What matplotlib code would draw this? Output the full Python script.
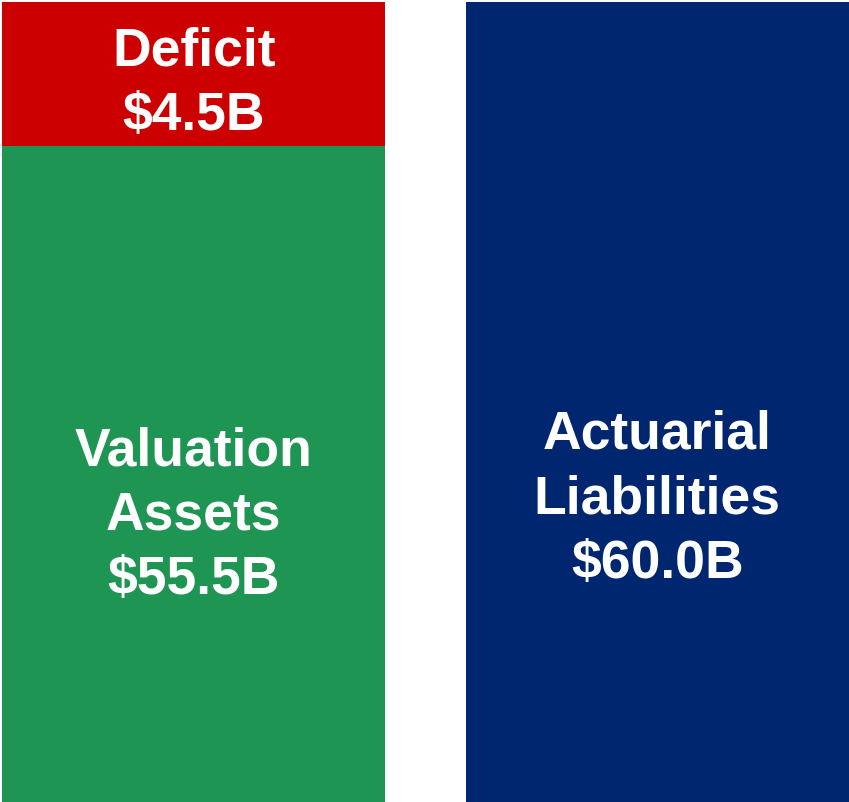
import matplotlib
matplotlib.use("Agg")
import matplotlib.pyplot as plt

# values shown in the labels ($B)
assets_value = 55.5
deficit_value = 4.5
liabilities_value = 60.0

# bar heights as drawn in the picture (the chart is not to scale)
assets_drawn = 49.2
deficit_drawn = 10.8
liabilities_drawn = 60.0

positions = [0, 1]

fig = plt.figure(figsize=(8.49, 8.02), dpi=100)
ax = fig.add_axes([0, 0, 1, 1])

w = 0.827
ax.bar(positions[0], assets_drawn, width=w, color="#1F9553", linewidth=0)
ax.bar(positions[0], deficit_drawn, bottom=assets_drawn, width=w,
       color="#CC0000", linewidth=0)
ax.bar(positions[1], liabilities_drawn, width=w, color="#00266F", linewidth=0)

font = dict(color="white", fontsize=38.5, fontweight="bold",
            family=["Liberation Sans", "DejaVu Sans"], ha="center", va="center",
            linespacing=1.37)

ax.text(positions[0], 53.85,
        f"Deficit\n${deficit_value:.1f}B", **font)
ax.text(positions[0], 21.45,
        f"Valuation\nAssets\n${assets_value:.1f}B", **font)
ax.text(positions[1], 22.7,
        f"Actuarial\nLiabilities\n${liabilities_value:.1f}B", **font)

ax.set_xlim(-0.418, 1.414)
ax.set_ylim(0, 60.15)
ax.axis("off")

fig.savefig("out.png", dpi=100)
